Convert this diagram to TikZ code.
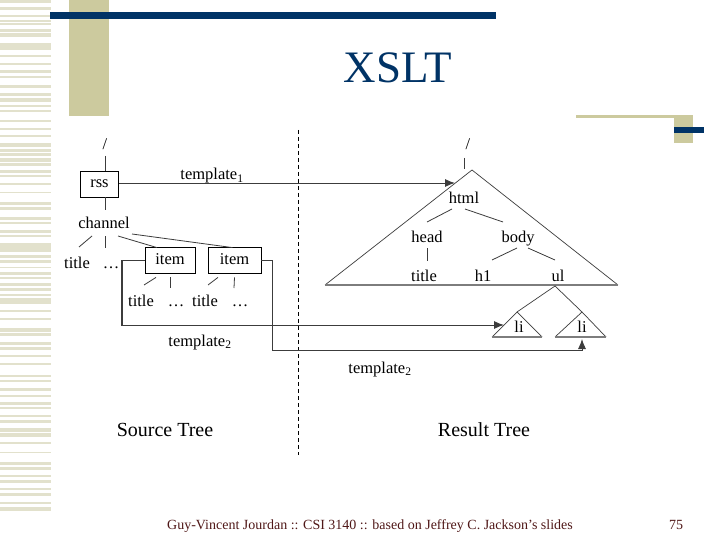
\documentclass[tikz,border=0pt]{standalone}
\usepackage{fontspec}
\setmainfont{Liberation Serif}
\usetikzlibrary{calc,arrows.meta}
\definecolor{slidenavy}{RGB}{0,51,102}
\definecolor{slidetan}{RGB}{204,202,158}
\definecolor{slidestripe}{RGB}{226,225,204}
\definecolor{footred}{RGB}{80,24,24}
\definecolor{treegray}{RGB}{60,60,60}
\definecolor{basegray}{RGB}{125,125,125}

\begin{document}
\begin{tikzpicture}[
    x=1pt,y=-1pt,
    every node/.style={font=\fontsize{16.5}{18}\selectfont,inner sep=0pt,
        text height=11pt,text depth=3pt},
    tagbox/.style={draw,line width=0.8pt,minimum height=26pt},
    edge/.style={treegray,line width=0.8pt},
    conn/.style={treegray,line width=0.9pt,-{Latex[length=10pt,width=8pt]}},
    tri/.style={treegray,line width=0.7pt},
    base/.style={basegray,line width=2pt}]
    \useasboundingbox[fill=white] (0,0) rectangle (720,540);

    % slide decoration
    \foreach \ya/\yb in {0/3,7/10,15/17,20/22,23/25,29/32,33/37,43/50,55/57,63/65,
        70/73,76/78,85/88,93/96,98/102,105/107,110/112,120/122,128/130,135/137,
        143/147,149/152,153/156,158/162,163/166,170/173,175/177,183/185,192/193,
        202/205,207/210,217/220,222/224,230/233,235/237,243/252,255/258,260/263,
        267/268,272/275,277/279,283/286,288/291,294/296,298/304,310/312,318/320,
        328/332,333/336,342/345,347/350,355/357,363/365,375/377,380/382,388/391,
        395/397,402/405,407/409,415/417,420/423,428/432,433/437,442/444,452/453,
        462/465,467/470,475/477,480/483,488/490,493/496,502/504,507/511}
        \fill[slidestripe] (0,\ya) rectangle (51,\yb);
    \fill[slidetan] (69,0) rectangle (109,116);
    \fill[slidenavy] (50,12) rectangle (496,19);
    \fill[slidetan] (576,115) rectangle (693,118);
    \fill[slidetan] (674,115) rectangle (693,143);
    \fill[slidenavy] (674,127) rectangle (704,133);
    \node[font=\fontsize{45}{48}\selectfont,text=slidenavy,text height=30pt,text depth=0pt]
        (title) at (398,68) {XSLT};

    \draw[dash pattern=on 4pt off 3pt,line width=0.7pt] (298,130) -- (298,455);

    % source tree
    \node (lroot) at (105,146) {/};
    \node[tagbox,minimum width=38pt] (rss) at (99.5,184) {rss};
    \node (channel) at (104,225) {channel};
    \node (st1) at (77,264) {title};
    \node (sd1) at (111,264) {\ldots};
    \node[tagbox,minimum width=50pt] (item1) at (170,260) {item};
    \node[tagbox,minimum width=53pt] (item2) at (234.5,260) {item};
    \node (st2) at (141,302) {title};
    \node (sd2) at (176,302) {\ldots};
    \node (st3) at (205,302) {title};
    \node (sd3) at (240,302) {\ldots};

    \draw[edge] ($(lroot)+(0,10)$) -- ($(rss.north)+(5.5,0)$);
    \draw[edge] ($(rss.south)+(5.5,0)$) -- ($(channel)+(1,-15)$);
    \draw[edge] ($(channel)+(-12,11)$) -- ($(st1)+(2,-17)$);
    \draw[edge] ($(channel)+(1,11)$) -- ($(sd1)+(-6,-16)$);
    \draw[edge] ($(channel)+(14,11)$) -- ($(item1.north)+(-13,1)$);
    \draw[edge] ($(channel)+(28,9)$) -- ($(item2.north)+(-2,1)$);
    \draw[edge] ($(item1.south)+(-14,4)$) -- ($(st2)+(3,-17)$);
    \draw[edge] ($(item1.south)+(0,4)$) -- ($(sd2)+(-6,-14)$);
    \draw[edge] ($(item2.south)+(-16.5,4)$) -- ($(st3)+(3,-17)$);
    \draw[edge] ($(item2.south)+(0,4)$) -- ($(sd3)+(-6,-14)$);

    % result tree
    \coordinate (top) at (472,170);
    \coordinate (bl) at (325,285);
    \coordinate (br) at (618,285);
    \coordinate (ultop) at (555,286);
    \coordinate (lia) at (517,312);
    \coordinate (lib) at (582,312);
    \draw[tri] (bl) -- (top) -- (br);
    \draw[base] (bl) -- (br);
    \draw[tri] (lia) -- (ultop) -- (lib);
    \draw[tri] ($(lia)+(-25,25)$) -- (lia) -- ($(lia)+(25,25)$);
    \draw[base] ($(lia)+(-25,25)$) -- ($(lia)+(25,25)$);
    \draw[tri] ($(lib)+(-27,25)$) -- (lib) -- ($(lib)+(24,25)$);
    \draw[base] ($(lib)+(-27,25)$) -- ($(lib)+(24,25)$);

    \node (rroot) at (468,146) {/};
    \node (html) at (464,200) {html};
    \node (head) at (427,238) {head};
    \node (body) at (518,239) {body};
    \node (rtitle) at (424,277) {title};
    \node (h1) at (483,277) {h1};
    \node (ul) at (558,277) {ul};
    \node (li1) at (519,328) {li};
    \node (li2) at (582,328) {li};

    \draw[edge] ($(rroot)+(-4,12)$) -- ($(top)+(-8,-1)$);
    \draw[edge] ($(html)+(-12,9)$) -- ($(head)+(0,-16)$);
    \draw[edge] ($(html)+(1,9)$) -- ($(body)+(-15,-17)$);
    \draw[edge] ($(head)+(0,10)$) -- ($(rtitle)+(3,-16)$);
    \draw[edge] ($(body)+(-1,9)$) -- ($(h1)+(9,-17)$);
    \draw[edge] ($(body)+(10,9)$) -- ($(ul)+(-3,-17)$);

    % templates
    \coordinate (t1end) at (455,183);
    \coordinate (li1in) at (504,325);
    \coordinate (li2in) at (582,339);
    \draw[conn] (rss.east |- t1end) -- (t1end);
    \draw[conn] (item1.west) -- ++(-23,0) |- (li1in);
    \draw[conn] (item2.east) -- ++(11,0) -- ++(0,90) -| (li2in);
    \draw[treegray,line width=1.8pt] ($(item1.west)+(-23,0)$) -- ++(0,65);
    \node (tpl1) at (212,176) {template\textsubscript{1}};
    \node (tpl2a) at (200,342) {template\textsubscript{2}};
    \node (tpl2b) at (380,369) {template\textsubscript{2}};

    \node[font=\fontsize{20}{22}\selectfont] (src) at (165,432) {Source Tree};
    \node[font=\fontsize{20}{22}\selectfont] (res) at (484,432) {Result Tree};

    \node[font=\fontsize{14}{16}\selectfont,text=footred] (foot) at (370,525)
        {Guy-Vincent Jourdan :: CSI 3140 :: based on Jeffrey C. Jackson's slides};
    \node[font=\fontsize{14}{16}\selectfont,text=footred] (page) at (676,525) {75};
\end{tikzpicture}
\end{document}
